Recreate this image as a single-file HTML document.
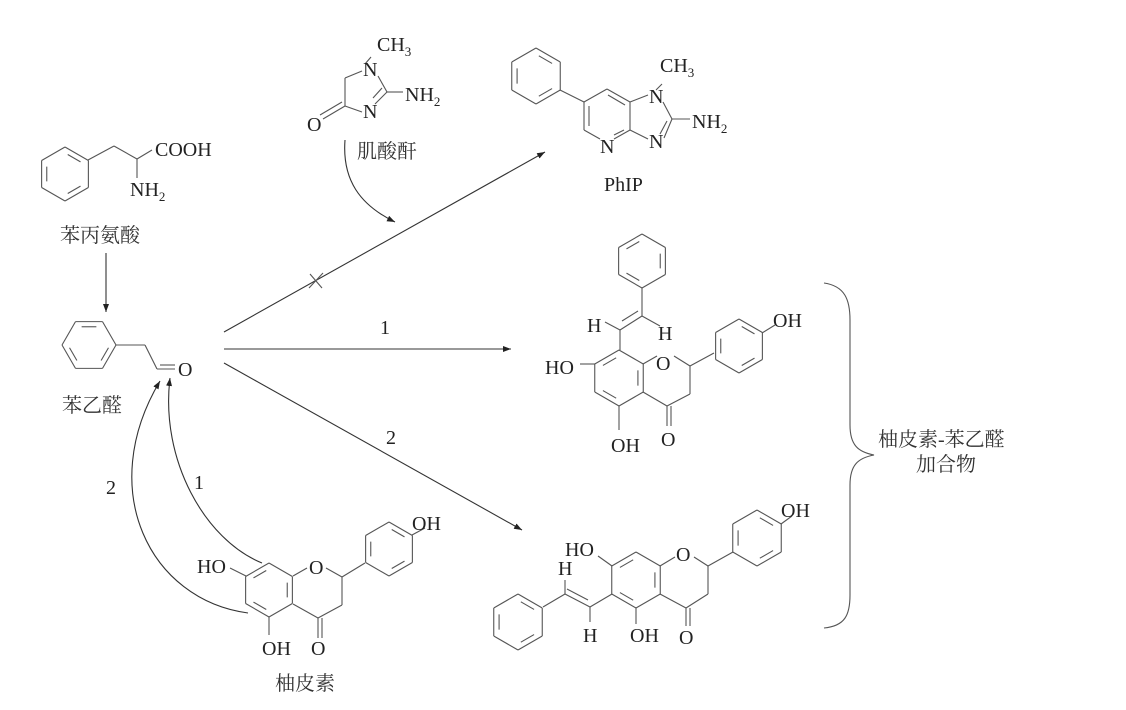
<!DOCTYPE html>
<html><head><meta charset="utf-8">
<style>
html,body{margin:0;padding:0;background:#fff;}
svg{display:block;}
text{font-family:"Liberation Serif","Noto Serif CJK SC",serif;fill:#222;font-size:20px;}
.cn{font-family:"Liberation Serif","Noto Serif CJK SC",serif;font-size:20px;fill:#333;}
.sub{font-size:13px;}
</style></head>
<body>
<svg id="s" width="1126" height="710" viewBox="0 0 1126 710" xmlns="http://www.w3.org/2000/svg">
<defs>
<marker id="ah" markerWidth="8" markerHeight="6" refX="8" refY="3" orient="auto" markerUnits="userSpaceOnUse">
<path d="M0,0 L8,3 L0,6 z" fill="#222"/>
</marker>
</defs>
<g id="g" stroke="#555" stroke-width="1.1" fill="none"></g>

<!-- Phenylalanine -->
<text x="155" y="156">COOH</text>
<text x="130" y="196">NH<tspan class="sub" dy="5">2</tspan></text>
<text class="cn" x="60" y="242">苯丙氨酸</text>

<!-- Phenylacetaldehyde -->
<text x="178" y="376">O</text>
<text class="cn" x="62" y="412">苯乙醛</text>

<!-- creatinine -->
<text x="377" y="51">CH<tspan class="sub" dy="5">3</tspan></text>
<text x="363" y="76">N</text>
<text x="363" y="118">N</text>
<text x="405" y="101">NH<tspan class="sub" dy="5">2</tspan></text>
<text x="307" y="131">O</text>
<text class="cn" x="357" y="158">肌酸酐</text>

<!-- PhIP -->
<text x="660" y="72">CH<tspan class="sub" dy="5">3</tspan></text>
<text x="649" y="103">N</text>
<text x="649" y="148">N</text>
<text x="600" y="153">N</text>
<text x="692" y="128">NH<tspan class="sub" dy="5">2</tspan></text>
<text x="604" y="191">PhIP</text>

<!-- labels on arrows -->
<text x="380" y="334">1</text>
<text x="386" y="444">2</text>
<text x="106" y="494">2</text>
<text x="194" y="489">1</text>

<!-- product 1 -->
<text x="587" y="332">H</text>
<text x="658" y="340">H</text>
<text x="545" y="374">HO</text>
<text x="656" y="370">O</text>
<text x="773" y="327">OH</text>
<text x="611" y="452">OH</text>
<text x="661" y="446">O</text>

<!-- naringenin -->
<text x="197" y="573">HO</text>
<text x="309" y="574">O</text>
<text x="262" y="655">OH</text>
<text x="311" y="655">O</text>
<text x="412" y="530">OH</text>
<text class="cn" x="275" y="690">柚皮素</text>

<!-- product 2 -->
<text x="565" y="556">HO</text>
<text x="676" y="561">O</text>
<text x="558" y="575">H</text>
<text x="583" y="642">H</text>
<text x="630" y="642">OH</text>
<text x="679" y="644">O</text>
<text x="781" y="517">OH</text>

<text class="cn" x="878" y="446">柚皮素-苯乙醛</text>
<text class="cn" x="916" y="471">加合物</text>
</svg>
<script>
var g=document.getElementById('g');
function L(x1,y1,x2,y2,arrow){var l=document.createElementNS('http://www.w3.org/2000/svg','line');
l.setAttribute('x1',x1);l.setAttribute('y1',y1);l.setAttribute('x2',x2);l.setAttribute('y2',y2);
if(arrow){l.setAttribute('marker-end','url(#ah)');l.setAttribute('stroke','#333');}g.appendChild(l);}
function P(d,arrow){var p=document.createElementNS('http://www.w3.org/2000/svg','path');p.setAttribute('d',d);
if(arrow){p.setAttribute('marker-end','url(#ah)');p.setAttribute('stroke','#333');}g.appendChild(p);}
function ring(cx,cy,r,pointy,inner,skip){skip=skip||[];var v=[];
for(var i=0;i<6;i++){var a=(pointy?-90:180)+60*i;a=a*Math.PI/180;v.push([cx+r*Math.cos(a),cy+r*Math.sin(a)]);}
for(var i=0;i<6;i++){var a=v[i],b=v[(i+1)%6];
 if(skip.indexOf(i)<0)L(a[0],a[1],b[0],b[1]);
 if(inner.indexOf(i)>=0){var k=0.78,m=0.15;
  var a2=[cx+(a[0]-cx)*k,cy+(a[1]-cy)*k],b2=[cx+(b[0]-cx)*k,cy+(b[1]-cy)*k];
  var dx=b2[0]-a2[0],dy=b2[1]-a2[1];
  L(a2[0]+dx*m,a2[1]+dy*m,b2[0]-dx*m,b2[1]-dy*m);}}
return v;}
// phenylalanine
ring(65,174,27,true,[0,2,4]);
L(88,160,114,146);L(114,146,137,159);L(137,159,152,150);L(137,159,137,178);
L(106,253,106,312,true);
// phenylacetaldehyde
ring(89,345,27,false,[1,3,5]);
L(116,345,145,345);L(145,345,157,369);L(157,369,175,369);L(160,365,175,365);
// creatinine
L(371,57,365,64);
L(362,71,345,78);L(345,78,345,106);L(345,106,362,112);L(375,104,387,92);L(373,98,382,88);L(387,92,378,76);L(387,92,403,92);
L(345,106,323,119);L(342,102,320,115);
P('M345,140 C342,180 360,205 395,222',true);
// main arrows
L(224,332,545,152,true);
L(310,274,322,288);L(309,288,323,273);
L(224,349,511,349,true);
L(224,363,522,530,true);
// curved arrows
P('M262,563 C205,540 160,460 170,378',true);
P('M248,613 C150,600 95,490 160,381',true);
// PhIP
ring(536,76,28,true,[0,2,4]);
L(560,90,584,102);
L(584,102,607,89);L(607,89,630,102);L(630,102,630,130);L(630,130,614,139);L(600,139,584,130);L(584,130,584,102);
L(589,106,589,126);L(608,95,625,105);L(624,130,614,135);
L(630,102,648,95);L(630,130,648,139);
L(664,138,672,119);L(660,134,667,121);L(672,119,663,102);
L(672,119,690,119);L(662,84,656,90);
// product 1
ring(642,261,27,true,[1,3,5]);
L(642,288,642,316);L(642,316,620,330);L(638,311,622,321);L(642,316,660,326);L(620,330,605,322);
L(620,330,620,350);
ring(619,378,28,true,[1,3,5]);
L(643,364,657,356);L(674,356,690,366);L(690,366,690,394);L(690,394,667,406);L(643,392,667,406);
L(667,406,667,426);L(671,406,671,426);
L(580,364,595,364);L(619,406,619,430);
L(690,366,714,353);
ring(739,346,27,true,[0,2,4]);L(762,333,775,325);
// naringenin
ring(269,590,27,true,[1,3,5]);
L(293,576,307,568);L(326,568,342,577);L(342,577,342,605);L(342,605,318,618);L(293,604,318,618);
L(318,618,318,638);L(322,618,322,638);
L(230,568,246,576);L(269,617,269,635);
L(342,577,365,563);
ring(389,549,27,true,[0,2,4]);L(412,535,425,528);
// product 2
ring(636,580,28,true,[1,3,5]);
L(660,566,675,557);L(694,557,708,566);L(708,566,708,594);L(708,594,686,608);L(660,594,686,608);
L(686,608,686,626);L(690,608,690,626);
L(612,566,598,556);L(636,608,636,624);
L(708,566,733,552);
ring(757,538,28,true,[0,2,4]);L(781,524,792,516);
L(612,594,590,607);L(590,607,590,622);L(590,607,565,594);L(588,600,567,589);L(565,594,565,580);L(565,594,543,607);
ring(518,622,28,true,[0,2,4]);
// brace
P('M824,283 C845,286 850,300 850,320 L850,425 C850,445 858,452 874,455 C858,458 850,465 850,485 L850,595 C850,615 845,626 824,628');
</script>
</body></html>
